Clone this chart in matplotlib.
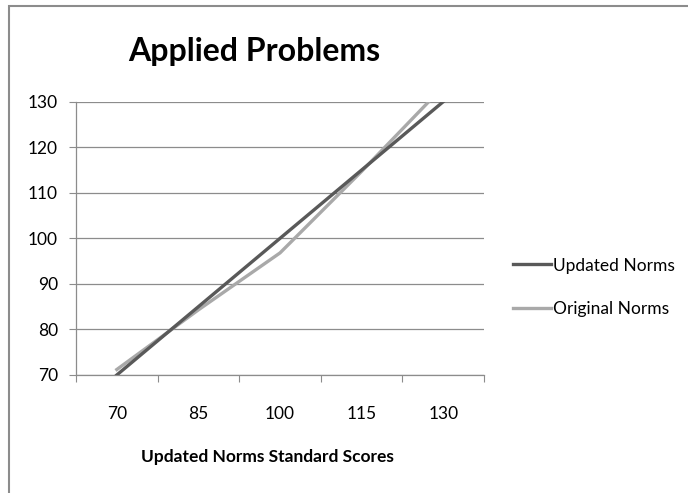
import matplotlib
matplotlib.use("Agg")
import matplotlib.pyplot as plt
from matplotlib.patches import Rectangle

# ==== data ====
categories = ["70", "85", "100", "115", "130"]
updated_norms = [70, 85, 100, 115, 130]
original_norms = [71.2, 84.3, 96.8, 114.7, 133.3]
y_ticks = [70, 80, 90, 100, 110, 120, 130]

plt.rcParams['font.family'] = ['Lato', 'DejaVu Sans']

fig = plt.figure(figsize=(6.88, 4.93), dpi=100)
ax = fig.add_axes([0.1105, 0.2394, 0.593, 0.5543])

x = list(range(len(categories)))
ax.plot(x, updated_norms, color='#595959', lw=2.4, label='Updated Norms', zorder=3)
ax.plot(x, original_norms, color='#a9a9a9', lw=2.4, label='Original Norms', zorder=2)

ax.set_xlim(-0.5, len(categories) - 0.5)
ax.set_ylim(70, 130)
ax.set_yticks(y_ticks)
ax.set_yticklabels([str(v) for v in y_ticks], fontsize=12.5)
ax.yaxis.grid(True, color='#8c8c8c', lw=0.9)
ax.set_axisbelow(True)

# tick marks between categories, labels in the middle
ax.set_xticks([i - 0.5 for i in range(len(categories) + 1)])
ax.set_xticklabels([])
ax.set_xticks(x, minor=True)
ax.set_xticklabels(categories, minor=True, fontsize=12.5)
ax.tick_params(axis='x', which='minor', length=0, pad=22)
ax.tick_params(axis='x', which='major', length=5, color='#8c8c8c')
ax.tick_params(axis='y', length=5, color='#8c8c8c', pad=8)

for s in ['top', 'right']:
    ax.spines[s].set_visible(False)
for s in ['left', 'bottom']:
    ax.spines[s].set_color('#8c8c8c')
    ax.spines[s].set_linewidth(0.9)

ax.set_xlabel("Updated Norms Standard Scores", fontsize=12.5, fontweight='bold')
ax.xaxis.set_label_coords(0.47, -0.272)
fig.text(0.369, 0.895, "Applied Problems", fontsize=23, fontweight='bold', ha='center', va='center')

fig.legend(loc='center left', bbox_to_anchor=(513 / 688, 0.417), frameon=False, fontsize=12.5,
           handlelength=2.2, handletextpad=0.1, labelspacing=1.6, borderpad=0, borderaxespad=0)

# chart area border
fig.patches.append(Rectangle((9 / 688, -0.05), 1.1, 0.05 + (493 - 5.5) / 493,
                             transform=fig.transFigure, fill=False, ec='#8c8c8c', lw=1.5))

fig.savefig("out.png", dpi=100)
